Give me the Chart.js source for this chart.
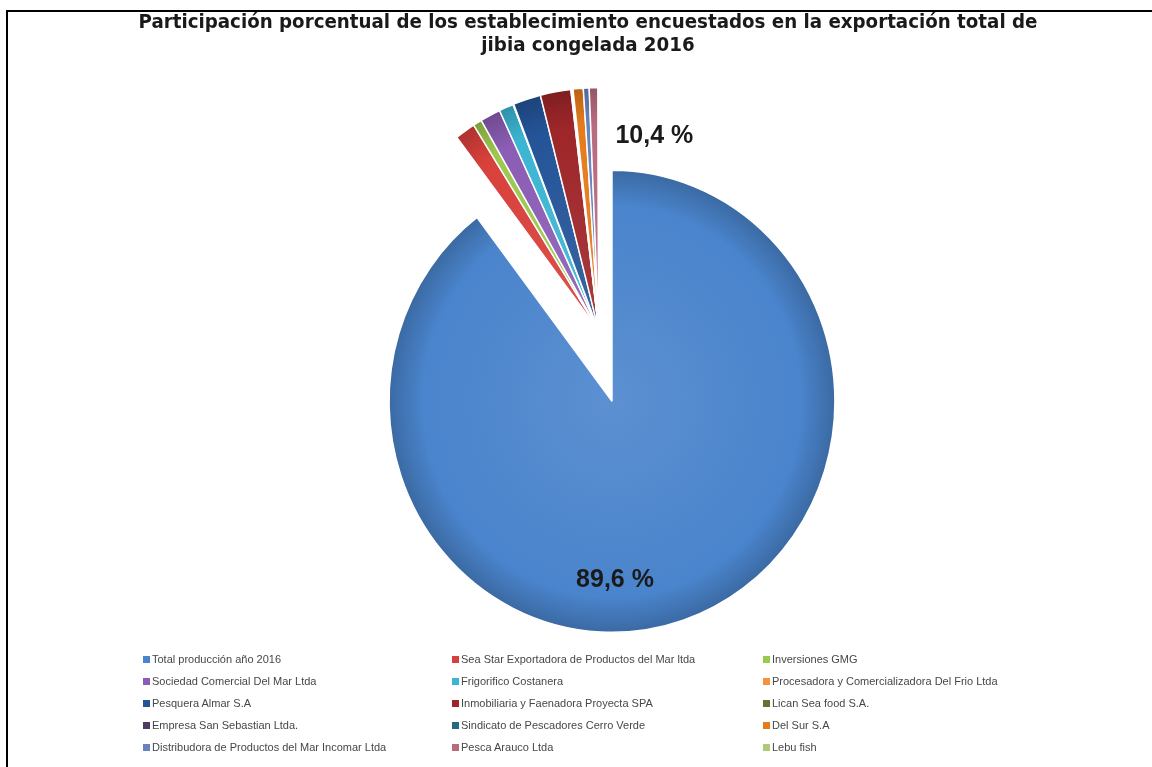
<!DOCTYPE html>
<html lang="es">
<head>
<meta charset="utf-8">
<title>Jibia congelada 2016</title>
<script src="https://cdn.jsdelivr.net/npm/chart.js@4.4.1/dist/chart.umd.min.js"></script>
<style>
  html, body { margin: 0; padding: 0; background: #fff; overflow: hidden; }
  #wrap { position: relative; width: 1152px; height: 767px; overflow: hidden; }
  #frame { position: absolute; left: 6px; top: 10px; width: 1300px; height: 900px;
           border-left: 2px solid #000; border-top: 2px solid #000; }
  #pie { position: absolute; left: 0; top: 0; }
  #legend { position: absolute; left: 0; top: 0; font-family: "Liberation Sans", Arial, sans-serif;
            font-size: 11px; color: #474747; }
  .item { position: absolute; display: flex; align-items: center; white-space: nowrap; }
  .box { width: 7px; height: 7px; margin-right: 2px; }
</style>
</head>
<body>
<div id="wrap">
  <div id="frame"></div>
  <canvas id="pie" width="1152" height="767"></canvas>
  <div id="legend"></div>
</div>
<script>
// Establecimientos (orden de la leyenda)
const labels = [
  'Total producción año 2016',
  'Sea Star Exportadora de Productos del Mar ltda',
  'Inversiones GMG',
  'Sociedad Comercial Del Mar Ltda',
  'Frigorifico Costanera',
  'Procesadora y Comercializadora Del Frio Ltda',
  'Pesquera Almar S.A',
  'Inmobiliaria y Faenadora Proyecta SPA',
  'Lican Sea food S.A.',
  'Empresa San Sebastian Ltda.',
  'Sindicato de Pescadores Cerro Verde',
  'Del Sur S.A',
  'Distribudora de Productos del Mar Incomar Ltda',
  'Pesca Arauco Ltda',
  'Lebu fish'
];

// Participación (%)
const shares = [89.6, 1.4, 0.6, 1.4, 1.0, 0.05, 1.9, 2.1, 0.05, 0.05, 0.05, 0.7, 0.4, 0.6, 0.05];

const colors = [
  '#4a84cc', '#d8403b', '#9cc84f', '#8b5db4', '#3cb5d3', '#f7913a', '#245498', '#9e2629',
  '#5f7530', '#4d3b62', '#276a7c', '#e67b1c', '#6784bf', '#b96b7e', '#afc97a'
];

const titleLines = [
  'Participación porcentual de los establecimiento encuestados en la exportación total de',
  'jibia congelada 2016'
];

const RADIUS = 231;
const EXPLODE = 72;          // desplazamiento del grupo de sectores pequeños (px)
const EXPLODE_DIR = -11;     // dirección, grados desde las 12 en sentido horario
const SMALL_GROW = 12;       // los sectores separados se ven algo más largos
const FLATTEN = 0.965;       // achatado horizontal de la torta
const PIE_SHIFT = 48;

const fmt = v => v.toFixed(1).replace('.', ',') + ' %';

function tint(hex, amt) {
  const n = parseInt(hex.slice(1), 16);
  const r = n >> 16, g = (n >> 8) & 255, b = n & 255;
  const f = c => Math.round(amt >= 0 ? c + (255 - c) * amt : c * (1 + amt));
  return `rgb(${f(r)},${f(g)},${f(b)})`;
}

function explodeVec(i) {
  if (i === 0) return { dx: 0, dy: 0 };
  const a = EXPLODE_DIR * Math.PI / 180;
  return { dx: Math.sin(a) * EXPLODE, dy: -Math.cos(a) * EXPLODE };
}

// degradado radial por sector (centro claro, borde oscuro)
function shade(c) {
  const i = c.dataIndex;
  const chart = c.chart;
  const a = chart.chartArea;
  if (!a) return colors[i];
  const { dx, dy } = explodeVec(i);
  const cx = (a.left + a.right) / 2 + dx;
  const cy = (a.top + a.bottom) / 2 + dy;
  const r = i === 0 ? RADIUS : RADIUS + SMALL_GROW;
  const g = chart.ctx.createRadialGradient(cx, cy, 0, cx, cy, r);
  g.addColorStop(0, tint(colors[i], 0.1));
  g.addColorStop(0.85, colors[i]);
  g.addColorStop(1, tint(colors[i], -0.2));
  return g;
}

// espacio a la izquierda del gráfico, sin mover el título
const leftGap = {
  id: 'leftGap',
  beforeInit(chart) {
    Chart.layouts.addBox(chart, {
      position: 'left', weight: 0, fullSize: false, options: {},
      left: 0, top: 0, right: 0, bottom: 0, width: 0, height: 0,
      isHorizontal() { return false; },
      update(maxWidth, maxHeight) { this.width = PIE_SHIFT; this.height = maxHeight; },
      draw() {}
    });
  }
};

// separa el 10,4 % del resto de la torta
const explodeGroup = {
  id: 'explodeGroup',
  afterDatasetUpdate(chart) {
    chart.getDatasetMeta(0).data.forEach((arc, i) => {
      if (i === 0) return;
      const { dx, dy } = explodeVec(i);
      arc.x += dx;
      arc.y += dy;
      arc.outerRadius += SMALL_GROW;
    });
  }
};

// la torta original es levemente elíptica
const flatten = {
  id: 'flatten',
  beforeDatasetsDraw(chart) {
    const a = chart.chartArea;
    const cx = (a.left + a.right) / 2;
    chart.ctx.save();
    chart.ctx.translate(cx, 0);
    chart.ctx.scale(FLATTEN, 1);
    chart.ctx.translate(-cx, 0);
  },
  afterDatasetsDraw(chart) {
    chart.ctx.restore();
  }
};

// etiquetas de porcentaje
const pctLabels = {
  id: 'pctLabels',
  afterDatasetsDraw(chart) {
    const big = chart.getDatasetMeta(0).data[0];
    const r = big.outerRadius;
    const rest = shares.slice(1).reduce((s, v) => s + v, 0);
    const ctx = chart.ctx;
    ctx.save();
    ctx.font = 'bold 25px "Liberation Sans", Arial, sans-serif';
    ctx.fillStyle = '#1a1a1a';
    ctx.textAlign = 'center';
    ctx.textBaseline = 'middle';
    ctx.fillText(fmt(shares[0]), big.x + 3, big.y + 0.775 * r);
    ctx.fillText(fmt(rest), big.x + 0.19 * r * FLATTEN, big.y - 1.15 * r);
    ctx.restore();
  }
};

new Chart(document.getElementById('pie'), {
  type: 'pie',
  data: {
    labels: labels,
    datasets: [{
      data: shares,
      backgroundColor: shade,
      borderColor: '#ffffff',
      borderWidth: 1.5,
      clip: false
    }]
  },
  options: {
    responsive: false,
    animation: false,
    radius: RADIUS,
    layout: { padding: { left: 24, right: 0, top: 0, bottom: 31 } },
    plugins: {
      legend: { display: false },
      tooltip: { enabled: false },
      title: {
        display: true,
        text: titleLines,
        color: '#1a1a1a',
        font: { family: '"Liberation Sans Narrow", "Arial Narrow", "DejaVu Sans Condensed", sans-serif', size: 20.3, weight: 'bold', lineHeight: 1.1 },
        padding: { top: 12, bottom: 10 }
      }
    }
  },
  plugins: [leftGap, explodeGroup, flatten, pctLabels]
});

// leyenda en 3 columnas
const colX = [143, 452, 763];
const rowY = [660, 682, 704, 726, 748];
const legendEl = document.getElementById('legend');
labels.forEach((name, i) => {
  const item = document.createElement('div');
  item.className = 'item';
  item.style.left = colX[i % 3] + 'px';
  item.style.top = (rowY[Math.floor(i / 3)] - 7) + 'px';
  item.innerHTML = `<span class="box" style="background:${colors[i]}"></span><span>${name}</span>`;
  legendEl.appendChild(item);
});
</script>
</body>
</html>
